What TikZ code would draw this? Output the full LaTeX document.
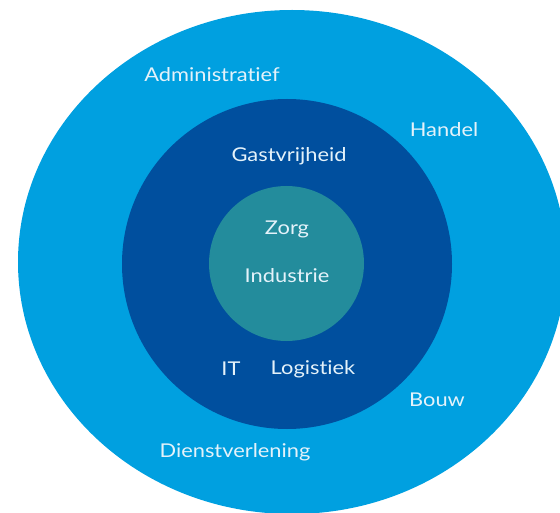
\documentclass[tikz,border=0pt]{standalone}
\usepackage{fontspec}
\setmainfont{Lato}[FakeStretch=1.15,Ligatures=NoCommon]
\definecolor{outerblue}{RGB}{0,160,224}
\definecolor{midblue}{RGB}{0,79,158}
\definecolor{coreteal}{RGB}{35,140,156}
\definecolor{labelwhite}{RGB}{228,242,250}
\begin{document}
\begin{tikzpicture}[x=1pt,y=-1pt,
  lbl/.style={text=labelwhite,font=\fontsize{19}{22}\selectfont,inner sep=0pt,anchor=center}]
\useasboundingbox (0,0) rectangle (560,513);
\clip (0,0) rectangle (560,513);
% rings
\fill[outerblue] (292,262) ellipse [x radius=274, y radius=252];
\fill[midblue] (287,264) circle [radius=165];
\fill[coreteal] (286.5,263.5) circle [radius=77.5];
% core sectors
\node[lbl] (zorg) at (287,229) {Zorg};
\node[lbl] (industrie) at (287,276) {Industrie};
% middle ring
\node[lbl] (gastvrijheid) at (289,156) {Gastvrijheid};
\node[lbl] (it) at (231,369) {IT};
\node[lbl] (logistiek) at (313,369) {Logistiek};
% outer ring
\node[lbl] (administratief) at (212,75) {Administratief};
\node[lbl] (handel) at (444,130) {Handel};
\node[lbl] (bouw) at (437,400) {Bouw};
\node[lbl] (dienstverlening) at (235,452) {Dienstverlening};
\end{tikzpicture}
\end{document}
